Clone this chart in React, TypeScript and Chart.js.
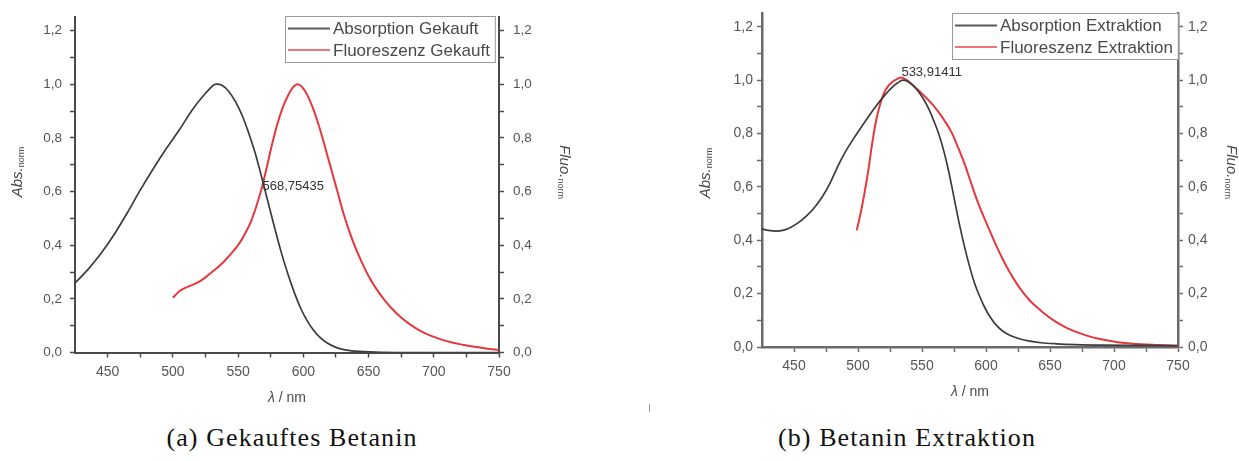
import React, { useEffect, useRef } from 'react';
import { Chart, registerables } from 'chart.js';

Chart.register(...registerables);

// ---------- data ----------
const X_MIN = 425;
const X_MAX = 750;
const Y_MAX = 1.25;
const xTickValues = [450, 475, 500, 525, 550, 575, 600, 625, 650, 675, 700, 725, 750];
const yTickValues = [0, 0.1, 0.2, 0.3, 0.4, 0.5, 0.6, 0.7, 0.8, 0.9, 1.0, 1.1, 1.2];

// (a) Gekauftes Betanin
const absA_nm = [425, 435, 445, 455, 465, 475, 485, 495, 505, 515, 523, 528, 533, 538, 543, 548, 553, 558, 563, 568, 573, 578, 583, 588, 593, 598, 603, 608, 613, 618, 625, 633, 643, 660, 700, 750];
const absA_val = [0.259, 0.31, 0.37, 0.44, 0.52, 0.605, 0.685, 0.76, 0.83, 0.905, 0.955, 0.982, 1.0, 0.995, 0.972, 0.935, 0.885, 0.82, 0.745, 0.655, 0.56, 0.465, 0.375, 0.295, 0.225, 0.165, 0.118, 0.082, 0.055, 0.036, 0.019, 0.009, 0.004, 0.001, 0.0, 0.0];
const fluA_nm = [500, 505, 510, 515, 520, 525, 530, 535, 540, 545, 550, 555, 560, 564, 568, 572, 576, 580, 584, 588, 592, 595.5, 599, 603, 607, 611, 615, 619, 623, 627, 631, 635, 640, 645, 650, 656, 662, 668, 675, 682, 690, 698, 706, 714, 722, 730, 740, 750];
const fluA_val = [0.204, 0.228, 0.242, 0.252, 0.263, 0.28, 0.3, 0.32, 0.343, 0.37, 0.4, 0.44, 0.49, 0.545, 0.61, 0.69, 0.775, 0.85, 0.91, 0.955, 0.988, 1.0, 0.99, 0.96, 0.915, 0.86, 0.795, 0.725, 0.655, 0.585, 0.515, 0.455, 0.39, 0.335, 0.285, 0.237, 0.197, 0.163, 0.13, 0.104, 0.08, 0.062, 0.048, 0.037, 0.029, 0.022, 0.015, 0.009];

// (b) Betanin Extraktion
const absB_nm = [425, 430, 436, 442, 448, 454, 460, 466, 472, 478, 484, 490, 496, 502, 508, 514, 520, 526, 531, 535, 539, 543, 547, 551, 555, 559, 563, 567, 571, 575, 579, 583, 587, 591, 595, 599, 603, 608, 613, 619, 626, 634, 643, 655, 670, 690, 720, 750];
const absB_val = [0.443, 0.437, 0.434, 0.438, 0.45, 0.468, 0.492, 0.523, 0.562, 0.612, 0.675, 0.73, 0.777, 0.82, 0.862, 0.902, 0.938, 0.97, 0.99, 1.0, 0.995, 0.98, 0.958, 0.93, 0.895, 0.85, 0.8, 0.735, 0.655, 0.56, 0.465, 0.38, 0.305, 0.24, 0.19, 0.148, 0.114, 0.082, 0.06, 0.043, 0.031, 0.022, 0.016, 0.012, 0.009, 0.007, 0.006, 0.005];
const fluB_nm = [499, 502, 505, 508, 511, 514, 517, 520, 524, 528, 533.9, 538, 543, 548, 553, 558, 563, 568, 573, 578, 583, 588, 593, 598, 603, 608, 613, 618, 623, 628, 634, 640, 647, 655, 663, 672, 682, 692, 703, 715, 730, 750];
const fluB_val = [0.437, 0.5, 0.575, 0.66, 0.76, 0.845, 0.905, 0.948, 0.98, 0.997, 1.01, 1.0, 0.98, 0.958, 0.935, 0.91, 0.88, 0.845, 0.805, 0.75, 0.69, 0.62, 0.55, 0.49, 0.435, 0.38, 0.33, 0.285, 0.245, 0.21, 0.175, 0.148, 0.12, 0.093, 0.072, 0.054, 0.038, 0.027, 0.018, 0.012, 0.008, 0.005];

const legendA = ['Absorption Gekauft', 'Fluoreszenz Gekauft'];
const legendB = ['Absorption Extraktion', 'Fluoreszenz Extraktion'];
const markA = { label: '568,75435', nm: 568.75435, val: 0.62 };
const markB = { label: '533,91411', nm: 533.91411, val: 1.03 };
const captionA = '(a) Gekauftes Betanin';
const captionB = '(b) Betanin Extraktion';
const xTitle = ['λ', ' / nm'];
const yLeftTitle = ['Abs.', 'norm'];
const yRightTitle = ['Fluo.', 'norm'];

// ---------- styles ----------
const SANS = "'Liberation Sans', Arial, sans-serif";
const ABS_COLOR = '#3c3c3c';
const FLU_COLOR = '#e5383d';
const ABS_LEG = '#5a5a5a';
const FLU_LEG = '#ef7377';
const TEXT = '#4a4a4a';

type Part = { text: string; font: string; dy: number };

function drawParts(ctx: CanvasRenderingContext2D, x: number, y: number, rot: number, parts: Part[]) {
  ctx.save();
  ctx.translate(x, y);
  ctx.rotate(rot);
  ctx.textBaseline = 'middle';
  ctx.textAlign = 'left';
  let total = 0;
  const widths = parts.map(p => { ctx.font = p.font; const w = ctx.measureText(p.text).width; total += w; return w; });
  let cx = -total / 2;
  parts.forEach((p, i) => {
    ctx.font = p.font;
    ctx.fillText(p.text, cx, p.dy);
    cx += widths[i];
  });
  ctx.restore();
}

type PanelCfg = {
  left: number; width: number; height: number;
  yLeftW: number; yRightW: number; xH: number; topPad: number;
  absNm: number[]; absVal: number[]; fluNm: number[]; fluVal: number[];
  legend: string[]; legendInset: number; legendTop: number;
  mark: { label: string; nm: number; val: number };
  tickFont: number; xTickFont: number; yPadL: number; yPadR: number; xPad: number;
  absTitleDx: number; fluTitleDx: number; absTitleY: number; fluTitleY: number; xTitleDy: number;
  axisColor: string; axisWidth: number;
};

const panelA: PanelCfg = {
  left: 0, width: 620, height: 420,
  yLeftW: 75, yRightW: 121, xH: 67.5, topPad: 10,
  absNm: absA_nm, absVal: absA_val, fluNm: fluA_nm, fluVal: fluA_val,
  legend: legendA, legendInset: 4, legendTop: -1,
  mark: markA,
  tickFont: 13.5, xTickFont: 14, yPadL: 8, yPadR: 9, xPad: 6,
  absTitleDx: -57, fluTitleDx: 65, absTitleY: 172, fluTitleY: 172, xTitleDy: 46,
  axisColor: '#4a4a4a', axisWidth: 2,
};

const panelB: PanelCfg = {
  left: 620, width: 619, height: 420,
  yLeftW: 142, yRightW: 61, xH: 73, topPad: 12,
  absNm: absB_nm, absVal: absB_val, fluNm: fluB_nm, fluVal: fluB_val,
  legend: legendB, legendInset: 0, legendTop: 0,
  mark: markB,
  tickFont: 14, xTickFont: 14, yPadL: 4, yPadR: 5, xPad: 6,
  absTitleDx: -56, fluTitleDx: 53, absTitleY: 173, fluTitleY: 172, xTitleDy: 45,
  axisColor: '#6a6a6a', axisWidth: 2.5,
};

function makeDecor(cfg: PanelCfg) {
  return {
    id: 'decor',
    afterDraw(chart: any) {
      const { ctx, chartArea: ca, scales } = chart;
      ctx.save();
      // annotation
      ctx.fillStyle = '#333';
      ctx.font = `13px ${SANS}`;
      ctx.textAlign = 'left';
      ctx.textBaseline = 'middle';
      ctx.fillText(cfg.mark.label, scales.x.getPixelForValue(cfg.mark.nm), scales.y.getPixelForValue(cfg.mark.val));

      // legend
      ctx.font = `17px ${SANS}`;
      const tw = Math.max(...cfg.legend.map(t => ctx.measureText(t).width));
      const boxW = 3 + 42 + 3 + tw + 5;
      const boxH = 46;
      const bx = Math.round(ca.right - cfg.legendInset - boxW);
      const by = Math.round(ca.top + cfg.legendTop);
      ctx.fillStyle = '#fff';
      ctx.fillRect(bx, by, boxW, boxH);
      ctx.strokeStyle = '#9a9a9a';
      ctx.lineWidth = 1;
      ctx.strokeRect(bx + 0.5, by + 0.5, boxW, boxH);
      const rows = [by + 12.5, by + 34];
      const cols = [ABS_LEG, FLU_LEG];
      cfg.legend.forEach((t, i) => {
        ctx.strokeStyle = cols[i];
        ctx.lineWidth = 2;
        ctx.beginPath();
        ctx.moveTo(bx + 3, rows[i]);
        ctx.lineTo(bx + 45, rows[i]);
        ctx.stroke();
        ctx.fillStyle = TEXT;
        ctx.fillText(t, bx + 48, rows[i] + 1);
      });

      // axis titles
      ctx.fillStyle = TEXT;
      drawParts(ctx, ca.left + cfg.absTitleDx, cfg.absTitleY, -Math.PI / 2, [
        { text: yLeftTitle[0], font: `italic 15px ${SANS}`, dy: 0 },
        { text: yLeftTitle[1], font: `9px ${SANS}`, dy: 4 },
      ]);
      drawParts(ctx, ca.right + cfg.fluTitleDx, cfg.fluTitleY, Math.PI / 2, [
        { text: yRightTitle[0], font: `italic 15px ${SANS}`, dy: 0 },
        { text: yRightTitle[1], font: `9px ${SANS}`, dy: 4 },
      ]);
      drawParts(ctx, (ca.left + ca.right) / 2, ca.bottom + cfg.xTitleDy, 0, [
        { text: xTitle[0], font: `italic 14px ${SANS}`, dy: 0 },
        { text: xTitle[1], font: `14px ${SANS}`, dy: 0 },
      ]);
      ctx.restore();
    },
  };
}

const fmtY = (v: number) => (Math.round(v * 10) % 2 === 0 ? v.toFixed(1).replace('.', ',') : '');

function Panel({ cfg }: { cfg: PanelCfg }) {
  const ref = useRef<HTMLCanvasElement | null>(null);
  useEffect(() => {
    if (!ref.current) return;
    const yScale = (pos: 'left' | 'right') => ({
      type: 'linear' as const,
      position: pos,
      min: 0,
      max: Y_MAX,
      afterBuildTicks: (s: any) => { s.ticks = yTickValues.map(v => ({ value: v })); },
      afterFit: (s: any) => { s.width = pos === 'left' ? cfg.yLeftW : cfg.yRightW; },
      ticks: {
        callback: (v: any) => fmtY(Number(v)),
        font: { size: cfg.tickFont, family: SANS },
        color: '#555',
        padding: pos === 'left' ? cfg.yPadL : cfg.yPadR,
        autoSkip: false,
      },
      grid: { drawOnChartArea: false, drawTicks: true, tickLength: 5, tickColor: cfg.axisColor, tickWidth: 1.5 },
      border: { display: true, color: cfg.axisColor, width: cfg.axisWidth },
    });
    const chart = new Chart(ref.current, {
      type: 'line',
      data: {
        datasets: [
          {
            label: cfg.legend[0],
            data: cfg.absNm.map((x, i) => ({ x, y: cfg.absVal[i] })),
            borderColor: ABS_COLOR,
            borderWidth: 1.7,
            pointRadius: 0,
            yAxisID: 'y',
            cubicInterpolationMode: 'monotone',
          },
          {
            label: cfg.legend[1],
            data: cfg.fluNm.map((x, i) => ({ x, y: cfg.fluVal[i] })),
            borderColor: FLU_COLOR,
            borderWidth: 2,
            pointRadius: 0,
            yAxisID: 'y1',
            cubicInterpolationMode: 'monotone',
          },
        ],
      },
      options: {
        responsive: false,
        animation: false,
        devicePixelRatio: 1,
        layout: { padding: { top: cfg.topPad, left: 0, right: 0, bottom: 0 } },
        plugins: { legend: { display: false }, tooltip: { enabled: false } },
        scales: {
          x: {
            type: 'linear',
            min: X_MIN,
            max: X_MAX,
            afterBuildTicks: (s: any) => { s.ticks = xTickValues.map(v => ({ value: v })); },
            afterFit: (s: any) => { s.height = cfg.xH; },
            ticks: {
              callback: (v: any) => (Number(v) % 50 === 0 ? String(v) : ''),
              font: { size: cfg.xTickFont, family: SANS },
              color: '#555',
              padding: cfg.xPad,
              maxRotation: 0,
              autoSkip: false,
            },
            grid: { drawOnChartArea: false, drawTicks: true, tickLength: 5, tickColor: cfg.axisColor, tickWidth: 1.5 },
            border: { display: true, color: cfg.axisColor, width: cfg.axisWidth },
          },
          y: yScale('left'),
          y1: yScale('right'),
        },
      } as any,
      plugins: [makeDecor(cfg)],
    });
    return () => chart.destroy();
  }, [cfg]);
  return (
    <canvas
      ref={ref}
      width={cfg.width}
      height={cfg.height}
      style={{ position: 'absolute', left: cfg.left, top: 0, width: cfg.width, height: cfg.height }}
    />
  );
}

const captionStyle = (center: number): React.CSSProperties => ({
  position: 'absolute',
  left: center - 300,
  width: 600,
  top: 423,
  textAlign: 'center',
  fontFamily: "'Liberation Serif', 'Times New Roman', serif",
  fontSize: 26,
  lineHeight: '30px',
  letterSpacing: 1.1,
  color: '#111',
  whiteSpace: 'nowrap',
});

export default function App() {
  return (
    <div style={{ position: 'absolute', left: 0, top: 0, width: 1239, height: 461, overflow: 'hidden', background: '#fff' }}>
      <Panel cfg={panelA} />
      <Panel cfg={panelB} />
      <div style={{ position: 'absolute', left: 649, top: 404, width: 1, height: 8, background: '#999' }} />
      <div style={captionStyle(292)}>{captionA}</div>
      <div style={captionStyle(907)}>{captionB}</div>
    </div>
  );
}
